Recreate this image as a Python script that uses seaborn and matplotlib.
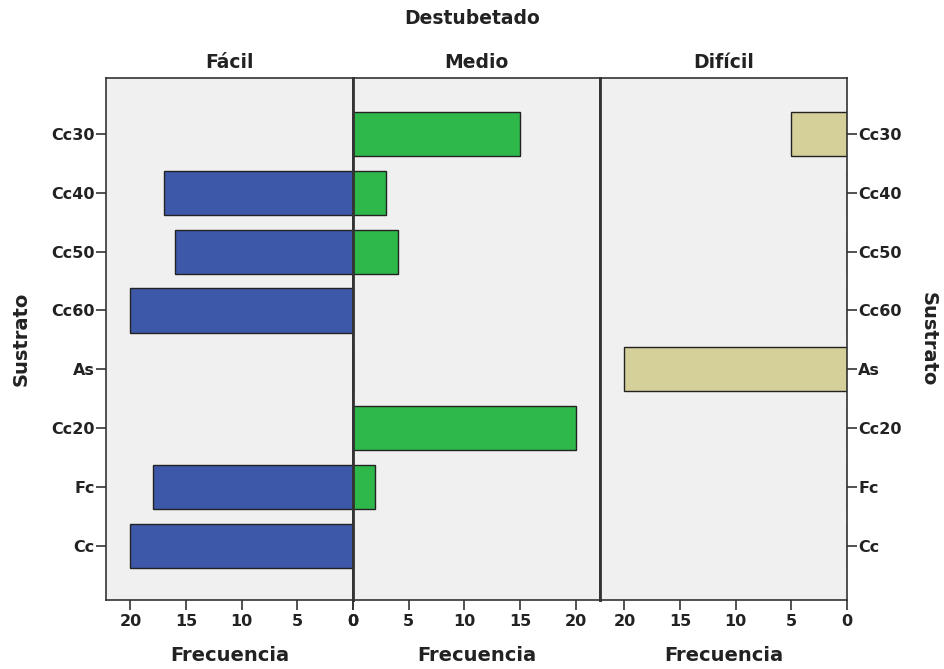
import matplotlib
matplotlib.use("Agg")
import matplotlib.pyplot as plt
import seaborn as sns
import pandas as pd

# ── Data ─────────────────────────────────────────────────────────────────────
sustratos = ["Cc30", "Cc40", "Cc50", "Cc60", "As", "Cc20", "Fc", "Cc"]
facil     = [0, 17, 16, 20, 0, 0, 18, 20]
medio     = [15, 3, 4, 0, 0, 20, 2, 0]
dificil   = [5, 0, 0, 0, 20, 0, 0, 0]

paneles = ["Fácil", "Medio", "Difícil"]
colores = {"Fácil": "#3d58a9", "Medio": "#2fb84a", "Difícil": "#d5cf99"}

df = pd.DataFrame({
    "Sustrato": sustratos * 3,
    "Frecuencia": facil + medio + dificil,
    "Destubetado": [p for p in paneles for _ in sustratos],
})

sns.set_theme(style="white")
plt.rcParams["font.family"] = ["DejaVu Sans"]

TICK_FS = 11.5
LABEL_FS = 14
TITLE_FS = 13.5
DARK = "#222222"

fig = plt.figure(figsize=(9.44, 6.69), dpi=100)
left, right, bottom, top = 106 / 944, 847 / 944, 1 - 600 / 669, 1 - 78 / 669
w = (right - left) / 3
axes = [fig.add_axes([left + i * w, bottom, w, top - bottom]) for i in range(3)]

for ax, panel in zip(axes, paneles):
    sub = df[df["Destubetado"] == panel]
    sns.barplot(data=sub, x="Frecuencia", y="Sustrato", order=sustratos,
                orient="h", color=colores[panel], saturation=1, width=0.75,
                edgecolor=DARK, linewidth=1.0, ax=ax)
    ax.set_facecolor("#f0f0f0")
    ax.set_ylim(7.92, -0.95)
    ax.set_xticks([0, 5, 10, 15, 20])
    if panel == "Medio":
        ax.set_xlim(0, 22.2)
    else:
        ax.set_xlim(22.2, 0)
    ax.set_xlabel("Frecuencia", fontsize=LABEL_FS, fontweight="bold",
                  labelpad=12, color=DARK)
    ax.set_ylabel("")
    ax.set_title(panel, fontsize=TITLE_FS, fontweight="bold", pad=7, color=DARK)
    for s in ax.spines.values():
        s.set_color("#333333")
        s.set_linewidth(1.2)
    ax.tick_params(axis="x", bottom=True, length=7, width=1.2, color="#333333",
                   labelsize=TICK_FS, pad=3)
    for lab in ax.get_xticklabels():
        lab.set_fontweight("bold")
        lab.set_color(DARK)

# Separator lines between panels
axes[0].spines["right"].set_linewidth(2)
axes[1].spines["left"].set_linewidth(2)
axes[1].spines["right"].set_linewidth(2)
axes[2].spines["left"].set_linewidth(2)

# Left y axis
axes[0].tick_params(axis="y", left=True, length=7, width=1.2, color="#333333",
                    labelsize=TICK_FS, pad=1)
for lab in axes[0].get_yticklabels():
    lab.set_fontweight("bold")
    lab.set_color(DARK)
axes[0].set_ylabel("Sustrato", fontsize=LABEL_FS, fontweight="bold",
                   labelpad=15, color=DARK)

axes[1].set_yticks([])
axes[1].tick_params(axis="y", left=False, right=False)

# Right y axis
axes[2].yaxis.tick_right()
axes[2].yaxis.set_label_position("right")
axes[2].tick_params(axis="y", right=True, left=False, length=7, width=1.2,
                    color="#333333", labelsize=TICK_FS, pad=1)
axes[2].set_yticks(range(len(sustratos)))
axes[2].set_yticklabels(sustratos)
for lab in axes[2].get_yticklabels():
    lab.set_fontweight("bold")
    lab.set_color(DARK)
axes[2].set_ylabel("Sustrato", fontsize=LABEL_FS, fontweight="bold", rotation=270,
                   labelpad=26, color=DARK)

fig.text(0.5, 1 - 18 / 669, "Destubetado", ha="center", va="center",
         fontsize=TITLE_FS, fontweight="bold", color=DARK)

fig.savefig("out.png", dpi=100, facecolor="white")
